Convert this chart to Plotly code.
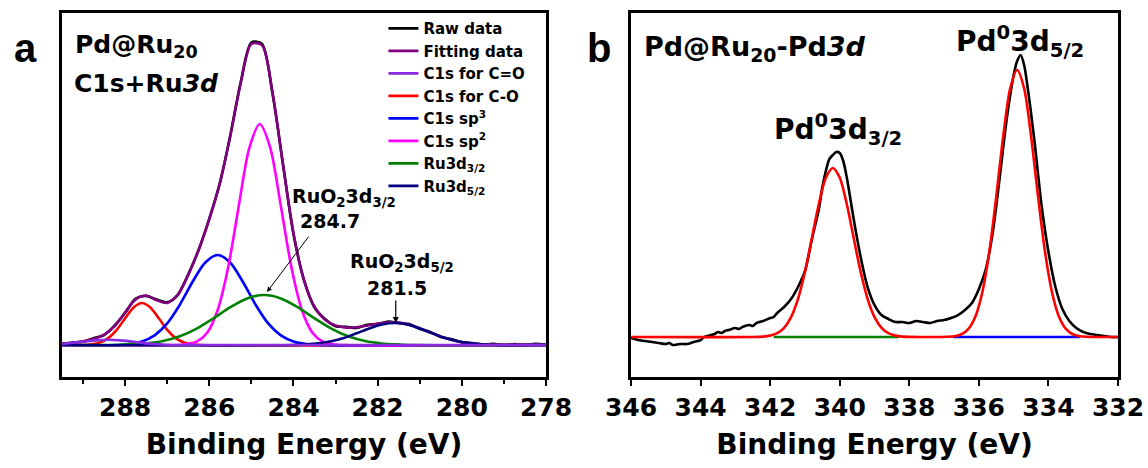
import plotly.graph_objects as go

# ---------------- Panel a : C1s + Ru3d ----------------
a_energy = [289.5, 289.25, 289.0, 288.75, 288.5, 288.25, 288.0, 287.75, 287.5, 287.25,
            287.0, 286.75, 286.5, 286.25, 286.0, 285.75, 285.5, 285.25, 285.0, 284.75,
            284.5, 284.25, 284.0, 283.75, 283.5, 283.25, 283.0, 282.75, 282.5, 282.25,
            282.0, 281.75, 281.5, 281.25, 281.0, 280.75, 280.5, 280.25, 280.0, 279.75,
            279.5, 279.25, 279.0, 278.75, 278.5, 278.25, 278.0]
a_raw = [1.5, 2.5, 3.2, 6.8, 10.0, 19.5, 32.0, 46.5, 49.0, 45.5,
         42.8, 50.0, 70.8, 95.2, 126.4, 161.5, 210.0, 263.5, 302.5, 301.2,
         252.0, 181.2, 111.0, 65.2, 37.5, 26.0, 18.8, 18.2, 17.0, 20.2,
         21.0, 23.4, 22.0, 20.9, 16.2, 13.1, 8.0, 5.9, 2.6, 2.0,
         0.4, 1.2, -0.3, 1.0, 0.2, 1.3, 0.5]
a_fit = [1.1, 2.2, 3.8, 6.1, 10.4, 18.8, 32.7, 45.7, 49.5, 44.8,
         42.1, 50.5, 70.1, 95.9, 125.6, 162.2, 209.0, 262.5, 301.0, 300.0,
         253.0, 180.4, 111.8, 64.4, 38.2, 25.3, 19.5, 17.4, 17.7, 19.4,
         21.5, 22.7, 22.4, 20.3, 16.7, 12.5, 8.6, 5.3, 3.0, 1.5,
         0.7, 0.3, 0.1, 0, 0, 0, 0]

a_co_x = [289.5, 289.0, 288.7, 288.4, 288.1, 287.8, 287.4, 287.0, 286.6, 278.0]
a_co_y = [1.0, 3.2, 4.6, 5.2, 4.6, 3.2, 1.3, 0.3, 0, 0]

a_c_o_x = [289.5, 289.0, 288.8, 288.6, 288.4, 288.2, 288.0, 287.8, 287.6, 287.4, 287.2,
           287.0, 286.8, 286.6, 286.4, 286.2, 278.0]
a_c_o_y = [0, 0, 0.7, 2.5, 6.9, 15.1, 26.7, 37.5, 42, 37.5, 26.7,
           15.1, 6.9, 2.5, 0.7, 0, 0]

a_sp3_x = [289.5, 288.2, 287.9, 287.6, 287.3, 287.0, 286.7, 286.4, 286.1, 285.8, 285.5,
           285.2, 284.9, 284.6, 284.3, 284.0, 283.7, 283.4, 278.0]
a_sp3_y = [0, 0, 1.1, 3.6, 9.7, 21.6, 40.3, 63, 82.3, 90, 82.3,
           63, 40.3, 21.6, 9.7, 3.6, 1.1, 0, 0]

a_sp2_x = [289.5, 286.8, 286.55, 286.3, 286.05, 285.8, 285.55, 285.3, 285.05, 284.8, 284.55,
           284.3, 284.05, 283.8, 283.55, 283.3, 283.05, 282.8, 278.0]
a_sp2_y = [0, 0, 0.8, 3.4, 12.3, 35, 78, 139, 197, 221, 197,
           139, 78, 35, 12.3, 3.4, 0.8, 0, 0]

a_ru32_x = [289.5, 288.3, 287.9, 287.5, 287.1, 286.7, 286.3, 285.9, 285.5, 285.1, 284.7,
            284.3, 283.9, 283.5, 283.1, 282.7, 282.3, 281.9, 281.5, 281.1, 278.0]
a_ru32_y = [0, 0, 0.6, 1.6, 4.0, 8.7, 16.4, 26.7, 37.8, 46.6, 50,
            46.6, 37.8, 26.7, 16.4, 8.7, 4.0, 1.6, 0.6, 0, 0]

a_ru52_x = [289.5, 284.0, 283.7, 283.4, 283.1, 282.8, 282.5, 282.2, 281.9, 281.6, 281.3,
            281.0, 280.7, 280.4, 280.1, 279.8, 279.5, 279.2, 278.0]
a_ru52_y = [0, 0, 0.7, 1.8, 3.8, 7.1, 11.7, 16.6, 20.5, 22, 20.5,
            16.6, 11.7, 7.1, 3.8, 1.8, 0.7, 0, 0]

a_ticks = [288, 286, 284, 282, 280, 278]

# ---------------- Panel b : Pd3d ----------------
b_raw_x = [346.0, 345.8, 345.6, 345.4, 345.2, 345.0, 344.9, 344.8, 344.6, 344.4, 344.2,
           344.0, 343.9, 343.8, 343.6, 343.5, 343.4, 343.3, 343.2, 343.0, 342.9, 342.8,
           342.6, 342.5, 342.4, 342.2, 342.0, 341.9, 341.8, 341.6, 341.4, 341.2, 341.0,
           340.8, 340.6, 340.5, 340.4, 340.3, 340.2, 340.1, 340.0, 339.9, 339.8, 339.6,
           339.4, 339.2, 339.0, 338.8, 338.6, 338.4, 338.2, 338.0, 337.8, 337.6, 337.4,
           337.2, 337.0, 336.8, 336.6, 336.4, 336.2, 336.0, 335.8, 335.6, 335.4, 335.2,
           335.0, 334.9, 334.8, 334.7, 334.6, 334.4, 334.2, 334.0, 333.8, 333.6, 333.4,
           333.2, 333.0, 332.8, 332.6, 332.4, 332.2, 332.0]
b_raw_y = [-1, -3, -4, -5, -6, -7, -6, -8, -7, -7, -5,
           -3, 0, 1, 3, 5, 4, 6, 7, 9, 8, 10,
           12, 11, 14, 16, 19, 20, 24, 30, 38, 50, 66,
           98, 128, 150, 166, 178, 182, 185, 184, 176, 160, 118,
           80, 50, 32, 22, 18, 15, 15, 14, 16, 15, 14,
           16, 17, 19, 22, 27, 34, 48, 68, 105, 160, 218,
           262, 276, 282, 272, 250, 195, 132, 85, 50, 28, 16,
           9, 5, 3, 2, 1, 0, 0]

b_fit_x = [346.0, 342.5, 342.2, 342.0, 341.8, 341.6, 341.4, 341.2, 341.0, 340.8, 340.6,
           340.4, 340.2, 340.0, 339.8, 339.6, 339.4, 339.2, 339.0, 338.8, 338.6,
           338.4, 338.2, 337.6, 337.1, 336.9, 336.7, 336.5, 336.3, 336.1, 335.9,
           335.7, 335.5, 335.3, 335.1, 334.9, 334.7, 334.5, 334.3, 334.1, 333.9,
           333.7, 333.5, 333.3, 333.1, 332.9, 332.6, 332.0]
b_fit_y = [0, 0, 0.4, 1.4, 3.8, 9.2, 19.9, 38.2, 65.2, 99.0, 133.2,
           159.2, 169, 159.2, 133.2, 99.0, 65.2, 38.2, 19.9, 9.2, 3.8,
           1.4, 0.4, 0, 0, 0.2, 0.8, 2.8, 8.2, 20.6, 45.1,
           85.4, 140.7, 200.8, 248.6, 267, 248.6, 200.8, 140.7, 85.4, 45.1,
           20.6, 8.2, 2.8, 0.8, 0.2, 0, 0]

b_bg32_x = [341.9, 338.3]
b_bg32_y = [0, 0]
b_bg52_x = [336.75, 333.1]
b_bg52_y = [0, 0]

b_ticks = [346, 344, 342, 340, 338, 336, 334, 332]

# ---------------- styling ----------------
FONT = "DejaVu Sans, Liberation Sans, Arial, sans-serif"
ARIAL = "Liberation Sans, Arial, sans-serif"
LW = 2.6

fig = go.Figure()

def add(x, y, color, name, rank, xa="x", ya="y", legend=True, width=LW):
    fig.add_trace(go.Scatter(
        x=x, y=y, mode="lines", name=name, legendrank=rank, showlegend=legend,
        xaxis=xa, yaxis=ya,
        line=dict(color=color, width=width, shape="spline", smoothing=0.8)))

add(a_energy, a_raw, "#000000", "Raw data", 1)
add(a_energy, a_fit, "#800080", "Fitting data", 2)
add(a_c_o_x, a_c_o_y, "#ff0000", "C1s for C-O", 4)
add(a_sp3_x, a_sp3_y, "#0000ff", "C1s sp<sup>3</sup>", 5)
add(a_sp2_x, a_sp2_y, "#ff00ff", "C1s sp<sup>2</sup>", 6)
add(a_ru32_x, a_ru32_y, "#008000", "Ru3d<sub>3/2</sub>", 7)
add(a_ru52_x, a_ru52_y, "#000080", "Ru3d<sub>5/2</sub>", 8)
add(a_co_x, a_co_y, "#8a2be2", "C1s for C=O", 3)

add(b_raw_x, b_raw_y, "#000000", "raw b", 20, "x2", "y2", False)
add(b_bg32_x, b_bg32_y, "#008000", "bg 3/2", 21, "x2", "y2", False)
add(b_bg52_x, b_bg52_y, "#0000ff", "bg 5/2", 22, "x2", "y2", False)
add(b_fit_x, b_fit_y, "#ff0000", "fit b", 23, "x2", "y2", False)

xax_common = dict(
    automargin=False,
    showline=True, linewidth=3, linecolor="black", mirror=True,
    showgrid=False, zeroline=False,
    ticks="outside", ticklen=6, tickwidth=2, tickcolor="black",
    tickfont=dict(family=FONT, size=25, color="black", weight="bold"),
    title=dict(text="Binding Energy (eV)", standoff=14,
               font=dict(family=FONT, size=28, color="black", weight="bold")),
)
yax_common = dict(
    automargin=False,
    showline=True, linewidth=3, linecolor="black", mirror=True,
    showgrid=False, zeroline=False, showticklabels=False, ticks="",
    domain=[0.1944, 0.9722],
)

fig.update_layout(
    width=1148, height=468,
    margin=dict(l=0, r=0, t=0, b=0, pad=0, autoexpand=False),
    paper_bgcolor="white", plot_bgcolor="white",
    font=dict(family=FONT, color="black"),
    xaxis=dict(domain=[0.054, 0.4756], range=[289.5, 278], tickvals=a_ticks,
               minor=dict(ticks="outside", ticklen=4, tickwidth=2, tickcolor="black", dtick=1, tick0=279),
               anchor="y", **xax_common),
    yaxis=dict(range=[-32, 332], anchor="x", **yax_common),
    xaxis2=dict(domain=[0.5497, 0.9739], range=[346, 332], tickvals=b_ticks,
                anchor="y2", **xax_common),
    yaxis2=dict(range=[-40, 324], anchor="x2", **yax_common),
    showlegend=True,
    legend=dict(x=0.334, y=0.974, xanchor="left", yanchor="top",
                bgcolor="rgba(0,0,0,0)", borderwidth=0, tracegroupgap=0,
                itemwidth=30,
                font=dict(family=FONT, size=15, color="black", weight="bold")),
)

ann = []
def text(x, y, t, size, xanchor="center", family=FONT):
    ann.append(dict(x=x, y=y, xref="paper", yref="paper", text=t, showarrow=False,
                    xanchor=xanchor, yanchor="middle",
                    font=dict(family=family, size=size, color="black", weight="bold")))

text(0.0218, 0.898, "a", 40, family=ARIAL)
text(0.5215, 0.898, "b", 40, family=ARIAL)
text(0.064, 0.902, "Pd@Ru<sub>20</sub>", 25, "left")
text(0.063, 0.822, "C1s+Ru<i>3d</i>", 25, "left")
text(0.300, 0.578, "RuO<sub>2</sub>3d<sub>3/2</sub>", 19)
text(0.2875, 0.527, "284.7", 19)
text(0.350, 0.440, "RuO<sub>2</sub>3d<sub>5/2</sub>", 19)
text(0.3455, 0.384, "281.5", 19)
text(0.559, 0.897, "Pd@Ru<sub>20</sub>-Pd<i>3d</i>", 27, "left")
text(0.8885, 0.912, "Pd<sup>0</sup>3d<sub>5/2</sub>", 28)
text(0.730, 0.724, "Pd<sup>0</sup>3d<sub>3/2</sub>", 28)

ann.append(dict(x=284.63, y=53, ax=283.61, ay=110, xref="x", yref="y", axref="x", ayref="y",
                text="", showarrow=True, arrowhead=2, arrowsize=1, arrowwidth=1, arrowcolor="black"))
ann.append(dict(x=281.57, y=22, ax=281.57, ay=46, xref="x", yref="y", axref="x", ayref="y",
                text="", showarrow=True, arrowhead=2, arrowsize=1, arrowwidth=1.2, arrowcolor="black"))
fig.update_layout(annotations=ann)

fig.write_html("out.html")
